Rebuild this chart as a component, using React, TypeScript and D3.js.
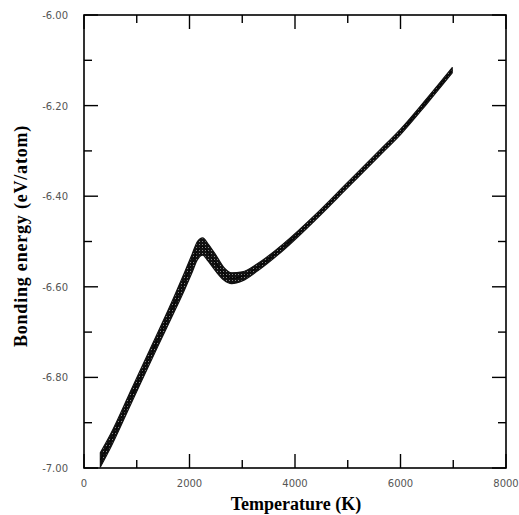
import React from "react";
import * as d3 from "d3";

const temperature = [310, 500, 900, 1400, 1700, 1900, 2050, 2150, 2250, 2350, 2500, 2650, 2800, 3000, 3300, 3800, 4400, 5000, 5600, 6000, 6500, 6980];
const energyLow = [-6.998, -6.956, -6.856, -6.731, -6.658, -6.608, -6.568, -6.540, -6.530, -6.543, -6.566, -6.585, -6.593, -6.587, -6.564, -6.517, -6.451, -6.381, -6.311, -6.264, -6.196, -6.128];
const energyHigh = [-6.966, -6.926, -6.826, -6.701, -6.624, -6.570, -6.528, -6.500, -6.492, -6.505, -6.530, -6.557, -6.569, -6.567, -6.548, -6.503, -6.439, -6.369, -6.299, -6.252, -6.184, -6.116];

const xTickValues = [0, 2000, 4000, 6000, 8000];
const xTickLabels = ["0", "2000", "4000", "6000", "8000"];
const xMinorValues = [1000, 3000, 5000, 7000];
const yTickValues = [-6.0, -6.2, -6.4, -6.6, -6.8, -7.0];
const yTickLabels = ["-6.00", "-6.20", "-6.40", "-6.60", "-6.80", "-7.00"];
const yMinorValues = [-6.1, -6.3, -6.5, -6.7, -6.9];

const W = 519, H = 515;
const L = 84, R = 506, T = 15, B = 468;

export default function App() {
  const x = d3.scaleLinear().domain([0, 8000]).range([L, R]);
  const y = d3.scaleLinear().domain([-7.0, -6.0]).range([B, T]);
  const rows = temperature.map((t, i) => ({ t, lo: energyLow[i], hi: energyHigh[i] }));
  const area = d3.area<any>()
    .x((d) => x(d.t))
    .y0((d) => y(d.lo))
    .y1((d) => y(d.hi))
    .curve(d3.curveMonotoneX);
  const mid = d3.line<any>()
    .x((d) => x(d.t))
    .y((d) => y((d.lo + d.hi) / 2))
    .curve(d3.curveMonotoneX);

  const major = 14, minor = 8;
  const tickFont = "'DejaVu Sans', sans-serif";
  const labelFont = "'Liberation Serif', 'Times New Roman', serif";

  return (
    <svg width={W} height={H} style={{ position: "absolute", left: 0, top: 0, background: "#fff" }}>
      <defs>
        <pattern id="speck" width="3" height="3" patternUnits="userSpaceOnUse">
          <rect width="3" height="3" fill="#111" />
          <rect x="1" y="1" width="1" height="1" fill="#888" />
        </pattern>
      </defs>
      <rect x={0} y={0} width={W} height={H} fill="#fff" />
      <rect x={L} y={T} width={R - L} height={B - T} fill="none" stroke="#000" strokeWidth={1.6} />
      {xTickValues.map((v) => (
        <g key={"xt" + v}>
          <line x1={x(v)} x2={x(v)} y1={B} y2={B - major} stroke="#000" strokeWidth={1.4} />
          <line x1={x(v)} x2={x(v)} y1={T} y2={T + major} stroke="#000" strokeWidth={1.4} />
        </g>
      ))}
      {xMinorValues.map((v) => (
        <g key={"xm" + v}>
          <line x1={x(v)} x2={x(v)} y1={B} y2={B - minor} stroke="#000" strokeWidth={1.4} />
          <line x1={x(v)} x2={x(v)} y1={T} y2={T + minor} stroke="#000" strokeWidth={1.4} />
        </g>
      ))}
      {yTickValues.map((v) => (
        <g key={"yt" + v}>
          <line x1={L} x2={L + major} y1={y(v)} y2={y(v)} stroke="#000" strokeWidth={1.4} />
          <line x1={R} x2={R - major} y1={y(v)} y2={y(v)} stroke="#000" strokeWidth={1.4} />
        </g>
      ))}
      {yMinorValues.map((v) => (
        <g key={"ym" + v}>
          <line x1={L} x2={L + minor} y1={y(v)} y2={y(v)} stroke="#000" strokeWidth={1.4} />
          <line x1={R} x2={R - minor} y1={y(v)} y2={y(v)} stroke="#000" strokeWidth={1.4} />
        </g>
      ))}
      {xTickValues.map((v, i) => (
        <text key={"xl" + v} x={x(v)} y={487} textAnchor="middle" fontFamily={tickFont} fontSize={10} fill="#555">
          {xTickLabels[i]}
        </text>
      ))}
      {yTickValues.map((v, i) => (
        <text key={"yl" + v} x={68} y={y(v) + 4} textAnchor="end" fontFamily={tickFont} fontSize={10} fill="#555">
          {yTickLabels[i]}
        </text>
      ))}
      <path d={area(rows) || ""} fill="url(#speck)" stroke="#111" strokeWidth={1.2} strokeLinejoin="round" />
      <path d={mid(rows) || ""} fill="none" stroke="#000" strokeWidth={1} />
      <text x={296} y={510} textAnchor="middle" fontFamily={labelFont} fontWeight="bold" fontSize={18} fill="#000">
        Temperature (K)
      </text>
      <text
        transform={`translate(27, 236) rotate(-90)`}
        textAnchor="middle"
        fontFamily={labelFont}
        fontWeight="bold"
        fontSize={18}
        letterSpacing={0.8}
        fill="#000"
      >
        Bonding energy (eV/atom)
      </text>
    </svg>
  );
}
